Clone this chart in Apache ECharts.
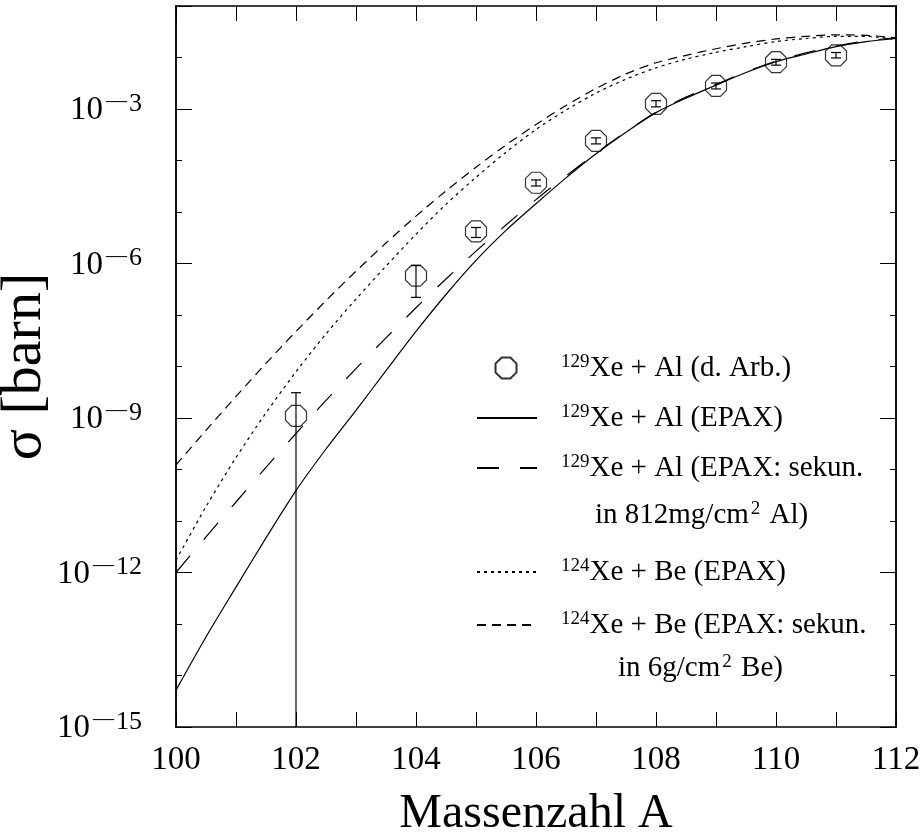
<!DOCTYPE html>
<html>
<head>
<meta charset="utf-8">
<script src="https://cdn.jsdelivr.net/npm/echarts@6/dist/echarts.min.js"></script>
<style>
html,body{margin:0;padding:0;background:#fff;}
#chart{width:924px;height:839px;}
</style>
</head>
<body>
<div id="chart"></div>
<script>
// ---- data (sigma in barn), sampled every 0.5 in A ----
const massA = [100, 100.5, 101, 101.5, 102, 102.5, 103, 103.5, 104, 104.5, 105, 105.5, 106,
               106.5, 107, 107.5, 108, 108.5, 109, 109.5, 110, 110.5, 111, 111.5, 112];
const xeAlEpax    = [5.2e-15, 5.6e-14, 5.2e-13, 4.7e-12, 3.9e-11, 2.5e-10, 1.41e-9, 8.3e-9, 4.8e-8, 2.5e-7, 1.15e-6, 4.4e-6, 1.45e-5,
                     4.6e-5, 1.35e-4, 3.55e-4, 8.5e-4, 1.62e-3, 2.9e-3, 5.1e-3, 8.3e-3, 1.17e-2, 1.62e-2, 2.04e-2, 2.34e-2];
const xeAlEpaxSek = [1.0e-12, 4.9e-12, 2.34e-11, 1.1e-10, 5.0e-10, 2.2e-9, 9.1e-9, 3.6e-8, 1.38e-7, 5.0e-7, 1.74e-6, 5.6e-6, 1.74e-5,
                     5.0e-5, 1.38e-4, 3.6e-4, 8.7e-4, 1.7e-3, 3.0e-3, 5.25e-3, 8.5e-3, 1.23e-2, 1.66e-2, 2.1e-2, 2.4e-2];
const xeBeEpax    = [1.74e-12, 1.9e-11, 1.7e-10, 1.26e-9, 7.9e-9, 4.3e-8, 2.04e-7, 8.9e-7, 3.7e-6, 1.41e-5, 4.7e-5, 1.45e-4, 4.0e-4,
                     9.5e-4, 2.04e-3, 3.8e-3, 6.3e-3, 9.3e-3, 1.26e-2, 1.62e-2, 2.04e-2, 2.34e-2, 2.57e-2, 2.57e-2, 2.24e-2];
const xeBeEpaxSek = [1.23e-10, 5.75e-10, 2.63e-9, 1.15e-8, 4.8e-8, 1.9e-7, 7.1e-7, 2.5e-6, 8.3e-6, 2.57e-5, 7.4e-5, 2.0e-4, 5.0e-4,
                     1.17e-3, 2.5e-3, 4.8e-3, 7.9e-3, 1.1e-2, 1.48e-2, 1.9e-2, 2.29e-2, 2.57e-2, 2.75e-2, 2.7e-2, 2.4e-2];
const measA    = [102, 104, 105, 106, 107, 108, 109, 110, 111];
const measVal  = [1.1e-9, 5.8e-7, 4.2e-6, 3.7e-5, 2.4e-4, 1.26e-3, 2.8e-3, 8.1e-3, 1.1e-2];
const measLow  = [1e-16, 2.2e-7, 3.2e-6, 3.2e-5, 2.1e-4, 1.1e-3, 2.45e-3, 7.1e-3, 9.8e-3];
const measHigh = [3.1e-9, 9.1e-7, 5.0e-6, 4.2e-5, 2.75e-4, 1.45e-3, 3.2e-3, 9.2e-3, 1.25e-2];
const xTicks = [100, 102, 104, 106, 108, 110, 112];
const yExpMin = -15, yExpMax = -1;
const names = ['129Xe + Al (d. Arb.)', '129Xe + Al (EPAX)', '129Xe + Al (EPAX: sekun.', '124Xe + Be (EPAX)', '124Xe + Be (EPAX: sekun.'];
const contLines = [['in 812mg/cm', '2', ' Al)'], ['in 6g/cm', '2', ' Be)']];

const FONT = 'Liberation Serif';
const lg = v => Math.log10(v);
const pairs = arr => massA.map((a, i) => [a, lg(arr[i])]);
const octagon = 'path://M-0.414,-1L0.414,-1L1,-0.414L1,0.414L0.414,1L-0.414,1L-1,0.414L-1,-0.414Z';

const chart = echarts.init(document.getElementById('chart'), null, {renderer: 'canvas'});

const axLine = {show: true, lineStyle: {color: '#000', width: 1.5}};
function xAx(pos, showLabel) {
  return {
    type: 'value', position: pos, min: 100, max: 112, interval: 1,
    axisLine: axLine,
    axisTick: {show: true, inside: true, length: 15, lineStyle: {color: '#000', width: 1}},
    splitLine: {show: false},
    axisLabel: {show: showLabel, margin: 17, color: '#000', fontFamily: FONT, fontSize: 33,
      formatter: v => xTicks.indexOf(v) >= 0 ? String(v) : ''},
    name: showLabel ? 'Massenzahl A' : '', nameLocation: 'middle', nameGap: 63, nameMoveOverlap: false,
    nameTextStyle: {color: '#000', fontFamily: FONT, fontSize: 48}
  };
}
function yAx(pos, interval, len, showLabel) {
  return {
    type: 'value', position: pos, min: yExpMin, max: yExpMax, interval: interval,
    axisLine: axLine,
    axisTick: {show: true, inside: true, length: len, lineStyle: {color: '#000', width: 1}},
    splitLine: {show: false},
    axisLabel: {show: showLabel, margin: 34, color: '#000',
      formatter: v => (v === yExpMax) ? '' : '{b|10}{m|\u2014}{s|' + (-v) + '}',
      rich: {
        b: {fontFamily: FONT, fontSize: 33, lineHeight: 36, verticalAlign: 'bottom', color: '#000', padding: [0, 3, 0, 0]},
        m: {fontFamily: FONT, fontSize: 21, lineHeight: 18, verticalAlign: 'top', color: '#000', padding: [0, 2, 0, 0]},
        s: {fontFamily: FONT, fontSize: 26, lineHeight: 18, verticalAlign: 'top', color: '#000'}
      }},
    name: showLabel ? '\u03c3 [barn]' : '', nameLocation: 'middle', nameGap: 122, nameRotate: 90, nameMoveOverlap: false,
    nameTextStyle: {color: '#000', fontFamily: FONT, fontSize: 58}
  };
}

function lineSeries(name, arr, dash) {
  return {
    name: name, type: 'line', data: pairs(arr), smooth: 0.3, symbol: 'none', showSymbol: false,
    xAxisIndex: 0, yAxisIndex: 0, clip: true, silent: true,
    lineStyle: {color: '#000', width: 1.2, type: dash},
    itemStyle: {color: '#000'}
  };
}

const supRich = pad => ({
  sup: {fontFamily: FONT, fontSize: 19, lineHeight: 12, verticalAlign: 'top', padding: [0, 0, 0, pad], color: '#000'},
  t: {fontFamily: FONT, fontSize: 29, lineHeight: 30, verticalAlign: 'bottom', color: '#000'}
});
const legendCenters = [368, 418, 468, 572, 625];
const legends = names.map((n, i) => {
  const isPt = i === 0;
  return {
    data: [n], left: isPt ? 494.5 : 476, top: legendCenters[i] - 15, padding: 0,
    orient: 'vertical', itemWidth: isPt ? 21 : 60, itemHeight: isPt ? 21 : 14,
    selectedMode: false,
    itemStyle: isPt ? {} : {color: 'rgba(0,0,0,0)', borderWidth: 0},
    formatter: name => '{sup|' + name.slice(0, 3) + '}{t|' + name.slice(3) + '}',
    textStyle: {rich: supRich(isPt ? 39.5 : 19)}
  };
});

const contRich = {
  t: {fontFamily: FONT, fontSize: 29, lineHeight: 30, verticalAlign: 'bottom', fill: '#000'},
  s: {fontFamily: FONT, fontSize: 19, lineHeight: 12, verticalAlign: 'top', fill: '#000', padding: [0, 2, 0, 2]}
};
const contPos = [[595, 515], [618, 668]];

const option = {
  animation: false,
  backgroundColor: '#fff',
  grid: {left: 176, top: 6, width: 720, height: 721, containLabel: false, outerBoundsMode: 'none'},
  xAxis: [xAx('bottom', true), xAx('top', false)],
  yAxis: [yAx('left', 1, 6, false), yAx('left', 3, 16, true), yAx('right', 1, 6, false), yAx('right', 3, 16, false)],
  legend: legends,
  graphic: contLines.map((c, i) => ({
    type: 'text', x: contPos[i][0], y: contPos[i][1],
    style: {text: '{t|' + c[0] + '}{s|' + c[1] + '}{t|' + c[2] + '}', verticalAlign: 'middle', rich: contRich}
  })),
  series: [
    {
      name: names[0], type: 'scatter', xAxisIndex: 0, yAxisIndex: 0,
      data: measA.map((a, i) => [a, lg(measVal[i])]),
      symbol: octagon, symbolSize: 21, z: 5,
      itemStyle: {color: 'rgba(0,0,0,0)', borderColor: '#000', borderWidth: 1.2}
    },
    lineSeries(names[1], xeAlEpax, 'solid'),
    lineSeries(names[2], xeAlEpaxSek, [22, 21]),
    lineSeries(names[3], xeBeEpax, [3, 4]),
    lineSeries(names[4], xeBeEpaxSek, [9, 6]),
    {
      name: 'err', type: 'custom', xAxisIndex: 0, yAxisIndex: 0, clip: true, z: 4,
      data: measA.map((a, i) => [a, lg(measLow[i]), lg(measHigh[i])]),
      encode: {x: 0, y: [1, 2]},
      renderItem: function (params, api) {
        const x = api.value(0);
        const pLo = api.coord([x, api.value(1)]);
        const pHi = api.coord([x, api.value(2)]);
        const w = 5;
        const st = {stroke: '#000', lineWidth: 1.2};
        return {type: 'group', children: [
          {type: 'line', shape: {x1: pLo[0], y1: pLo[1], x2: pHi[0], y2: pHi[1]}, style: st},
          {type: 'line', shape: {x1: pHi[0] - w, y1: pHi[1], x2: pHi[0] + w, y2: pHi[1]}, style: st},
          {type: 'line', shape: {x1: pLo[0] - w, y1: pLo[1], x2: pLo[0] + w, y2: pLo[1]}, style: st}
        ]};
      }
    }
  ]
};
chart.setOption(option);
</script>
</body>
</html>
